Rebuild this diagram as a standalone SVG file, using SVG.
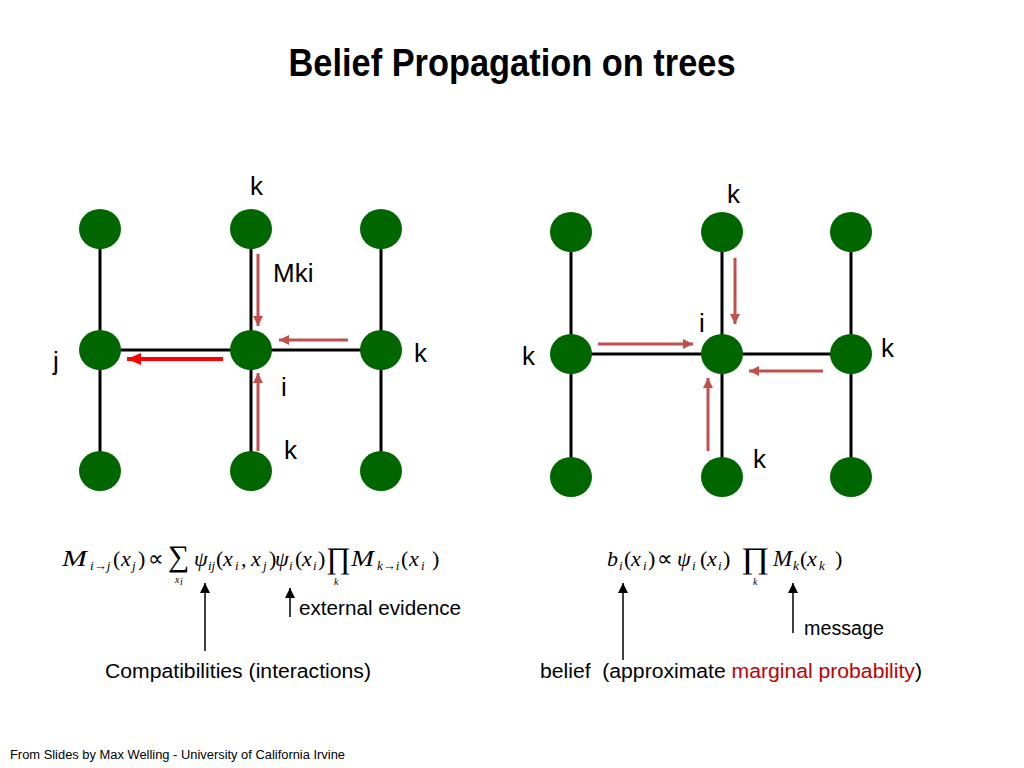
<svg xmlns="http://www.w3.org/2000/svg" width="1024" height="768" viewBox="0 0 1024 768">
<defs>
<style>
.node{fill:#006600}
.edge{stroke:#000;stroke-width:3;fill:none}
.msg{stroke:#c0504d;stroke-width:3;fill:none;marker-end:url(#hMsg)}
.out{stroke:#ff0000;stroke-width:4;fill:none;marker-end:url(#hOut)}
.ann{stroke:#000;stroke-width:1.5;fill:none;marker-end:url(#hAnn)}
.lbl{font-family:"Liberation Sans",Arial,sans-serif;font-size:26px;fill:#000}
.txt{font-family:"Liberation Sans",Arial,sans-serif;font-size:20px;fill:#000}
.m{font-family:"Liberation Serif","Times New Roman",serif;font-size:22px;font-style:italic;fill:#000}
.u{font-style:normal}
.bm{font-size:23px}
.s{font-size:13px}
.big{font-style:normal;font-size:30px}
.lim{font-size:10px}
</style>
<marker id="hMsg" markerUnits="userSpaceOnUse" markerWidth="10" markerHeight="10" refX="10" refY="5" orient="auto"><path d="M0,0 L10,5 L0,10 z" fill="#c0504d"/></marker>
<marker id="hOut" markerUnits="userSpaceOnUse" markerWidth="14" markerHeight="12" refX="14" refY="6" orient="auto"><path d="M0,0 L14,6 L0,12 z" fill="#ff0000"/></marker>
<marker id="hAnn" markerUnits="userSpaceOnUse" markerWidth="10" markerHeight="10" refX="10" refY="5" orient="auto"><path d="M0,0 L10,5 L0,10 z" fill="#000"/></marker>
</defs>
<rect width="1024" height="768" fill="#fff"/>
<text x="512" y="76" text-anchor="middle" font-family="'Liberation Sans',Arial,sans-serif" font-weight="bold" font-size="38" textLength="447" lengthAdjust="spacingAndGlyphs">Belief Propagation on trees</text>

<g id="connectors">
<line class="edge" x1="100" y1="229" x2="100" y2="471"/>
<line class="edge" x1="251" y1="229" x2="251" y2="471"/>
<line class="edge" x1="381" y1="229" x2="381" y2="471"/>
<line class="edge" x1="100" y1="350" x2="381" y2="350"/>
<line class="edge" x1="571" y1="232" x2="571" y2="477"/>
<line class="edge" x1="722" y1="232" x2="722" y2="477"/>
<line class="edge" x1="851" y1="232" x2="851" y2="477"/>
<line class="edge" x1="571" y1="354" x2="851" y2="354"/>
</g>

<g id="left-tree">
<g id="L1"><ellipse class="node" cx="100" cy="229" rx="21" ry="20"/></g>
<g id="L2"><ellipse class="node" cx="251" cy="229" rx="21" ry="20"/></g>
<g id="L3"><ellipse class="node" cx="381" cy="229" rx="21" ry="20"/></g>
<g id="L4"><ellipse class="node" cx="100" cy="350" rx="21" ry="20"/></g>
<g id="L5"><ellipse class="node" cx="251" cy="350" rx="21" ry="20"/></g>
<g id="L6"><ellipse class="node" cx="381" cy="350" rx="21" ry="20"/></g>
<g id="L7"><ellipse class="node" cx="100" cy="471" rx="21" ry="20"/></g>
<g id="L8"><ellipse class="node" cx="251" cy="471" rx="21" ry="20"/></g>
<g id="L9"><ellipse class="node" cx="381" cy="471" rx="21" ry="20"/></g>
</g>
<g id="right-tree">
<g id="R1"><ellipse class="node" cx="571" cy="232" rx="21" ry="20"/></g>
<g id="R2"><ellipse class="node" cx="722" cy="232" rx="21" ry="20"/></g>
<g id="R3"><ellipse class="node" cx="851" cy="232" rx="21" ry="20"/></g>
<g id="R4"><ellipse class="node" cx="571" cy="354" rx="21" ry="20"/></g>
<g id="R5"><ellipse class="node" cx="722" cy="354" rx="21" ry="20"/></g>
<g id="R6"><ellipse class="node" cx="851" cy="354" rx="21" ry="20"/></g>
<g id="R7"><ellipse class="node" cx="571" cy="477" rx="21" ry="20"/></g>
<g id="R8"><ellipse class="node" cx="722" cy="477" rx="21" ry="20"/></g>
<g id="R9"><ellipse class="node" cx="851" cy="477" rx="21" ry="20"/></g>
</g>

<g id="messages">
<line class="msg" x1="258" y1="254" x2="258" y2="326"/>
<line class="msg" x1="348" y1="340" x2="279" y2="340"/>
<line class="msg" x1="258" y1="451" x2="258" y2="373"/>
<line class="out" x1="223" y1="359" x2="127" y2="359"/>
<line class="msg" x1="735" y1="258" x2="735" y2="324"/>
<line class="msg" x1="598" y1="344" x2="693" y2="344"/>
<line class="msg" x1="823" y1="371" x2="749" y2="371"/>
<line class="msg" x1="708" y1="451" x2="708" y2="378"/>
</g>

<g id="labels">
<text class="lbl" x="250" y="195">k</text>
<text class="lbl" x="273" y="282" font-size="18">Mki</text>
<text class="lbl" x="53" y="370">j</text>
<text class="lbl" x="414" y="362">k</text>
<text class="lbl" x="281" y="396">i</text>
<text class="lbl" x="284" y="459">k</text>
<text class="lbl" x="727" y="203">k</text>
<text class="lbl" x="699" y="332">i</text>
<text class="lbl" x="522" y="365">k</text>
<text class="lbl" x="881" y="357">k</text>
<text class="lbl" x="753" y="468">k</text>
</g>

<g id="formula-message">
<text class="m bm" transform="translate(62,566) scale(1.3,1)">M</text>
<text class="m big" transform="translate(326,568)">∏</text>
<text class="m bm" transform="translate(351,566) scale(1.2,1)">M</text>
<text class="m"><tspan class="s" x="90" y="570">i<tspan class="u">→</tspan>j</tspan><tspan class="u" x="113" y="566">(</tspan><tspan x="121" y="566">x</tspan><tspan class="s" x="132" y="570">j</tspan><tspan class="u" x="138" y="566">)</tspan><tspan class="u" x="148" y="566">∝</tspan><tspan class="big" x="168" y="566">∑</tspan><tspan class="lim" x="175" y="583">x</tspan><tspan class="lim" font-size="7" x="180" y="585">i</tspan><tspan x="194" y="566">ψ</tspan><tspan class="s" x="208" y="570">ij</tspan><tspan class="u" x="216" y="566">(</tspan><tspan x="223" y="566">x</tspan><tspan class="s" x="235" y="570">i</tspan><tspan class="u" x="241" y="566">,</tspan><tspan x="251" y="566">x</tspan><tspan class="s" x="263" y="570">j</tspan><tspan class="u" x="269" y="566">)</tspan><tspan x="275" y="566">ψ</tspan><tspan class="s" x="289" y="570">i</tspan><tspan class="u" x="295" y="566">(</tspan><tspan x="302" y="566">x</tspan><tspan class="s" x="313" y="570">i</tspan><tspan class="u" x="318" y="566">)</tspan><tspan class="lim" font-size="11" x="334" y="585">k</tspan><tspan class="s" x="377" y="570">k<tspan class="u">→</tspan>i</tspan><tspan class="u" x="401" y="566">(</tspan><tspan x="409" y="566">x</tspan><tspan class="s" x="421" y="570">i</tspan><tspan class="u" x="432" y="566">)</tspan></text>
</g>

<g id="formula-belief">
<text class="m big" transform="translate(741,568) scale(1.15,1)">∏</text>
<text class="m"><tspan x="607" y="566">b</tspan><tspan class="s" x="619" y="570">i</tspan><tspan class="u" x="624" y="566">(</tspan><tspan x="631" y="566">x</tspan><tspan class="s" x="643" y="570">i</tspan><tspan class="u" x="648" y="566">)</tspan><tspan class="u" x="657" y="566">∝</tspan><tspan x="677" y="566">ψ</tspan><tspan class="s" x="692" y="570">i</tspan><tspan class="u" x="700" y="566">(</tspan><tspan x="707" y="566">x</tspan><tspan class="s" x="718" y="570">i</tspan><tspan class="u" x="723" y="566">)</tspan><tspan class="lim" font-size="11" x="753" y="585">k</tspan><tspan class="bm" x="773" y="566">M</tspan><tspan class="s" x="793" y="570">k</tspan><tspan class="u" x="800" y="566">(</tspan><tspan x="807" y="566">x</tspan><tspan class="s" x="819" y="570">k</tspan><tspan class="u" x="835" y="566">)</tspan></text>
</g>

<g id="annotations">
<line class="ann" x1="205" y1="651" x2="205" y2="583"/>
<line class="ann" x1="290" y1="617" x2="290" y2="588"/>
<line class="ann" x1="623" y1="660" x2="623" y2="583"/>
<line class="ann" x1="793" y1="633" x2="793" y2="583"/>
<text class="txt" x="299" y="615" textLength="162" lengthAdjust="spacingAndGlyphs">external evidence</text>
<text class="txt" x="804" y="635" textLength="80" lengthAdjust="spacingAndGlyphs">message</text>
<text class="txt" x="105" y="678" textLength="266" lengthAdjust="spacingAndGlyphs">Compatibilities (interactions)</text>
<text class="txt" x="540" y="678" textLength="382" lengthAdjust="spacingAndGlyphs" xml:space="preserve">belief  (approximate <tspan fill="#c00000">marginal probability</tspan>)</text>
</g>

<text x="10" y="759" font-family="'Liberation Sans',Arial,sans-serif" font-size="12" textLength="335" lengthAdjust="spacingAndGlyphs">From Slides by Max Welling - University of California Irvine</text>
</svg>
